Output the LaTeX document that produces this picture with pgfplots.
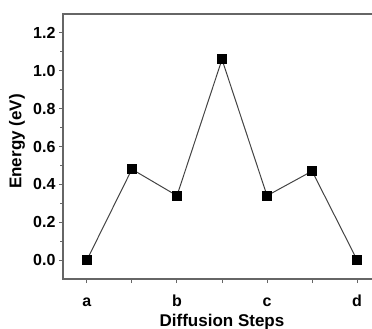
\documentclass[border=0pt]{standalone}
\usepackage{fontspec}
\setmainfont{Liberation Sans}
\usepackage{pgfplots}
\pgfplotsset{compat=1.18}
\definecolor{axgray}{HTML}{666666}
\definecolor{lngray}{HTML}{444444}
\begin{document}
\begin{tikzpicture}
\begin{axis}[
  scale only axis,
  width=318pt, height=265pt,
  xmin=-0.53, xmax=6.53,
  ymin=-0.1, ymax=1.3,
  axis line style={axgray, line width=1.5pt},
  xtick={0,1,2,3,4,5,6},
  xticklabels={a,,b,,c,,d},
  ytick={0,0.2,...,1.2},
  minor y tick num=1,
  tick align=outside,
  tick pos=left,
  major tick length=4pt,
  minor tick length=2.5pt,
  every tick/.style={axgray, line width=1pt},
  yticklabel style={/pgf/number format/fixed, /pgf/number format/precision=1, /pgf/number format/fixed zerofill, font=\fontsize{16}{16}\selectfont\bfseries, anchor=east, xshift=0pt},
  xticklabel style={font=\fontsize{16}{16}\selectfont\bfseries, anchor=base, yshift=-23pt},
  /pgf/number format/assume math mode=true,
  xlabel={Diffusion Steps},
  ylabel={Energy (eV)},
  xlabel style={font=\fontsize{17}{17}\selectfont\bfseries, at={(axis description cs:0.5,0)}, anchor=base, yshift=-47pt},
  ylabel style={font=\fontsize{17}{17}\selectfont\bfseries, at={(axis description cs:0,0.5)}, anchor=center, xshift=5pt, yshift=46pt},
]
\addplot[lngray, line width=1pt, mark=square*, mark size=4.5pt, mark options={black, fill=black, solid}] coordinates {
(0,0) (1,0.48) (2,0.34) (3,1.06) (4,0.34) (5,0.47) (6,0)
};
\coordinate (ll) at (rel axis cs:0,0);
\end{axis}
\pgfresetboundingbox
\useasboundingbox ([shift={(-63pt,-50pt)}]ll) rectangle ([shift={(309pt,279pt)}]ll);
\end{tikzpicture}
\end{document}
